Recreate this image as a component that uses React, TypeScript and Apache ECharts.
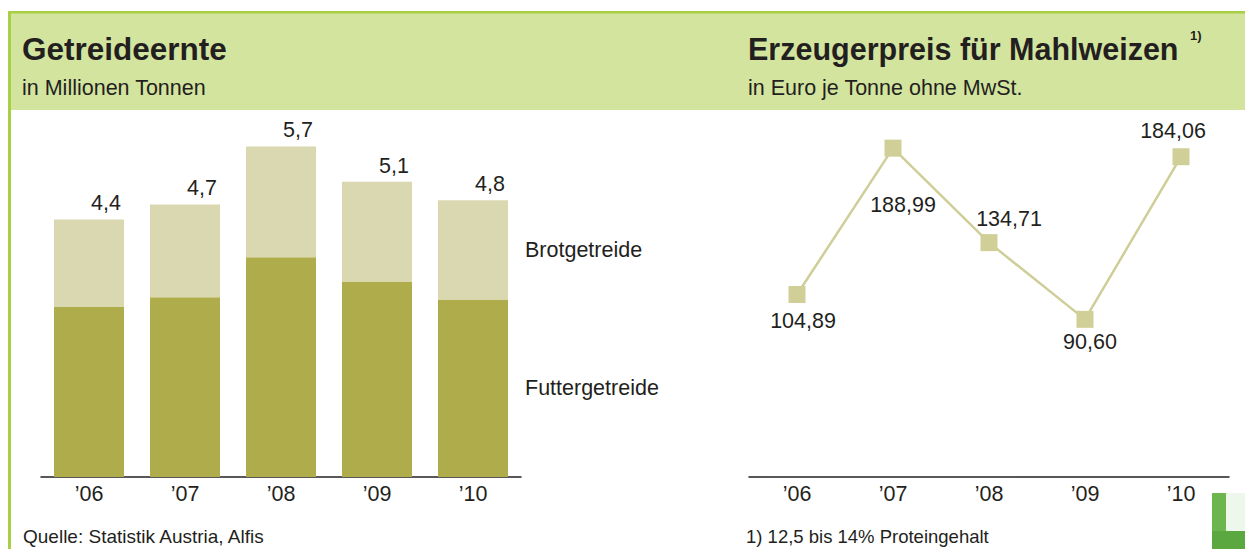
import React, { useEffect, useRef } from "react";
import * as echarts from "echarts";

const years = ["’06", "’07", "’08", "’09", "’10"];
const futtergetreide = [2.93, 3.1, 3.79, 3.37, 3.06];
const brotgetreide = [1.51, 1.6, 1.91, 1.72, 1.71];
const erntegesamt = [4.4, 4.7, 5.7, 5.1, 4.8];
const preise = [104.89, 188.99, 134.71, 90.6, 184.06];
const preisLabelOffsets: [number, number][] = [
  [6, 27],
  [10, 57],
  [20, -24],
  [5, 23],
  [-8, -26],
];

const FONT = "'Liberation Sans', Arial, Helvetica, sans-serif";
const TXT = "#231f20";
const LBL = 21.5;
const fmt = (v: number, d: number) => v.toFixed(d).replace(".", ",");

export default function App() {
  const ref = useRef<HTMLDivElement>(null);
  useEffect(() => {
    if (!ref.current) return;
    const chart = echarts.init(ref.current, undefined, { renderer: "svg" });
    const last = years.length - 1;
    const axisCommon = {
      type: "category" as const,
      data: years,
      boundaryGap: true,
      axisLine: { show: true, lineStyle: { color: "#231f20", width: 1.5 } },
      axisTick: { show: false },
      axisLabel: { color: TXT, fontSize: LBL, fontFamily: FONT, margin: 6 },
      splitLine: { show: false },
    };
    const sideLabel = {
      show: true,
      position: "right",
      distance: 17,
      formatter: "{a}",
      color: TXT,
      fontSize: LBL,
      fontFamily: FONT,
    };
    chart.setOption({
      animation: false,
      backgroundColor: "#ffffff",
      grid: [
        { left: 41, top: 129, width: 480, height: 348 },
        { left: 749, top: 129, width: 480, height: 348 },
      ],
      xAxis: [
        { ...axisCommon, gridIndex: 0 },
        { ...axisCommon, gridIndex: 1 },
      ],
      yAxis: [
        { type: "value", gridIndex: 0, min: 0, max: 6, show: false, splitLine: { show: false } },
        { type: "value", gridIndex: 1, min: 0, max: 200, show: false, splitLine: { show: false } },
      ],
      series: [
        {
          name: "Futtergetreide",
          type: "bar",
          stack: "ernte",
          xAxisIndex: 0,
          yAxisIndex: 0,
          barWidth: 70,
          itemStyle: { color: "#afac4c" },
          data: futtergetreide.map((v, i) =>
            i === last ? { value: v, label: sideLabel } : v
          ),
        },
        {
          name: "Brotgetreide",
          type: "bar",
          stack: "ernte",
          xAxisIndex: 0,
          yAxisIndex: 0,
          barWidth: 70,
          itemStyle: { color: "#dad8b0" },
          data: brotgetreide.map((v, i) =>
            i === last ? { value: v, label: sideLabel } : v
          ),
        },
        {
          name: "Gesamt",
          type: "scatter",
          xAxisIndex: 0,
          yAxisIndex: 0,
          symbolSize: 1,
          itemStyle: { color: "rgba(0,0,0,0)", opacity: 1 },
          label: {
            show: true,
            position: "inside",
            offset: [17, -16],
            formatter: (p: any) => fmt(erntegesamt[p.dataIndex], 1),
            color: TXT,
            opacity: 1,
            fontSize: LBL,
            fontFamily: FONT,
          },
          data: futtergetreide.map((v, i) => v + brotgetreide[i]),
        },
        {
          name: "Erzeugerpreis",
          type: "line",
          xAxisIndex: 1,
          yAxisIndex: 1,
          symbol: "rect",
          symbolSize: 17,
          lineStyle: { color: "#cfce98", width: 2.5 },
          itemStyle: { color: "#d0cf98" },
          data: preise.map((v, i) => ({
            value: v,
            label: {
              show: true,
              position: "inside",
              offset: preisLabelOffsets[i],
              formatter: () => fmt(v, 2),
              color: TXT,
              fontSize: LBL,
              fontFamily: FONT,
            },
          })),
        },
      ],
      graphic: [
        { type: "rect", shape: { x: 11, y: 13, width: 1234, height: 97 }, style: { fill: "#d3e49e" }, z: -10 },
        { type: "rect", shape: { x: 8, y: 11, width: 1237, height: 2.5 }, style: { fill: "#a8cf45" }, z: -9 },
        { type: "rect", shape: { x: 8, y: 11, width: 3, height: 538 }, style: { fill: "#a8cf45" }, z: -9 },
        {
          type: "text", x: 22, y: 49,
          style: { text: "Getreideernte", font: `bold 31.5px ${FONT}`, fill: TXT, verticalAlign: "middle" },
        },
        {
          type: "text", x: 22, y: 88,
          style: { text: "in Millionen Tonnen", font: `21.5px ${FONT}`, fill: TXT, verticalAlign: "middle" },
        },
        {
          type: "text", x: 748, y: 49,
          style: { text: "Erzeugerpreis für Mahlweizen", font: `bold 30.5px ${FONT}`, fill: TXT, verticalAlign: "middle" },
        },
        {
          type: "text", x: 1190, y: 35,
          style: { text: "1)", font: `bold 13px ${FONT}`, fill: TXT, verticalAlign: "middle" },
        },
        {
          type: "text", x: 748, y: 88,
          style: { text: "in Euro je Tonne ohne MwSt.", font: `21.5px ${FONT}`, fill: TXT, verticalAlign: "middle" },
        },
        {
          type: "text", x: 23, y: 536,
          style: { text: "Quelle: Statistik Austria, Alfis", font: `19px ${FONT}`, fill: TXT, verticalAlign: "middle" },
        },
        {
          type: "text", x: 746, y: 536,
          style: { text: "1) 12,5 bis 14% Proteingehalt", font: `18.5px ${FONT}`, fill: TXT, verticalAlign: "middle" },
        },
        { type: "rect", shape: { x: 1212, y: 493, width: 33, height: 56 }, style: { fill: "#eef7ec" } },
        { type: "rect", shape: { x: 1212, y: 493, width: 14, height: 56 }, style: { fill: "#6cb64e" } },
        { type: "rect", shape: { x: 1212, y: 531, width: 33, height: 18 }, style: { fill: "#5aa83f" } },
      ],
    });
    return () => chart.dispose();
  }, []);
  return (
    <div
      ref={ref}
      style={{ position: "absolute", left: 0, top: 0, width: 1245, height: 549 }}
    />
  );
}
